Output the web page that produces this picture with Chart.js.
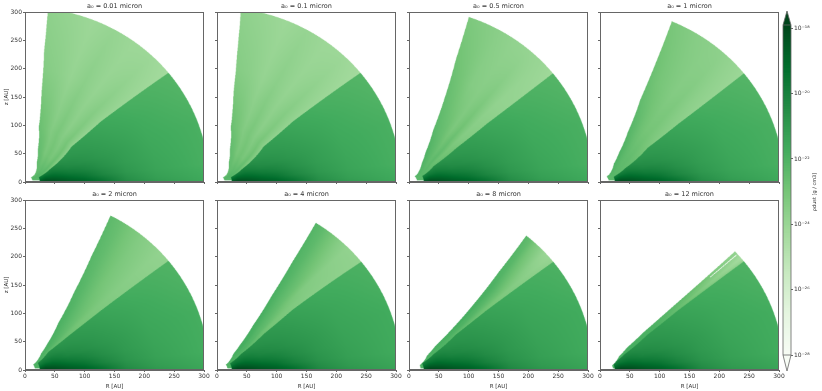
<!DOCTYPE html>
<html>
<head>
<meta charset="utf-8">
<script src="https://cdn.jsdelivr.net/npm/chart.js@4"></script>
<style>
  html, body { margin:0; padding:0; background:#fff; width:822px; height:391px; overflow:hidden; }
  canvas { position:absolute; filter:blur(0.3px); }
</style>
</head>
<body>
<script>
// panel titles
var titles = ['a₀ = 0.01 micron','a₀ = 0.1 micron','a₀ = 0.5 micron','a₀ = 1 micron',
              'a₀ = 2 micron','a₀ = 4 micron','a₀ = 8 micron','a₀ = 12 micron'];
var axisTicks = [0,50,100,150,200,250,300];

// colorbar
var greens = ['#f7fcf5','#e5f5e0','#c7e9c0','#a1d99b','#74c476','#41ab5d','#238b45','#006d2c','#00441b'];
var logMin = -28, logMax = -17.9;
var cbarTicks = [-28,-26,-24,-22,-20,-18];
var cbarLabels = ['10⁻²⁸','10⁻²⁶','10⁻²⁴','10⁻²²','10⁻²⁰','10⁻¹⁸'];
var cbarTitle = 'ρdust [g / cm3]';

// outer radius of the model and inner radius of the disk, AU
var outerRadius = 308, diskInner = 25;

// disk region: log10 rho, rows = diskAngles, columns = diskRadii
var diskRadii  = [25,35,50,75,100,130,170,220,308];
var diskAngles = [0,2,6,12,20,30,40];
var diskLog = [
  [-18.2,-18.0,-18.2,-18.6,-19.0,-19.4,-20.4,-21.0,-21.6],
  [-18.4,-18.1,-18.3,-18.7,-19.0,-19.6,-20.6,-21.2,-21.7],
  [-18.8,-18.4,-18.6,-19.1,-19.5,-20.2,-20.9,-21.4,-21.9],
  [-19.2,-18.9,-19.1,-19.7,-20.1,-20.6,-21.1,-21.5,-21.9],
  [-19.8,-19.6,-19.7,-20.3,-20.6,-20.9,-21.2,-21.6,-21.9],
  [-20.4,-20.2,-20.3,-20.7,-20.9,-21.1,-21.4,-21.7,-22.1],
  [-20.8,-20.6,-20.7,-21.0,-21.1,-21.3,-21.6,-21.9,-22.2]
];
var diskShift = [0,0,0,0,0.1,0.2,0.2,0.15];

// upper edge of the wind wedge per panel, degrees
var edgeRadii = [20,40,60,100,160,230,310];
var edgeAngles = [
  [38,60,69,76.5,80,82,82.8],
  [38,60,69,76.5,80,81.5,82.5],
  [45,57,62,66,68,70,71],
  [40,54,58,62,65,66,67],
  [35,47,51,56,59,61,62.3],
  [33,46,49,52.5,55,56.5,57.5],
  [25,40,43.5,45,47,49,50.4],
  [20,37,41,42.3,42.5,42.6,42.8]
];
// disk / wind boundary per panel, degrees
var boundRadii = [25,50,100,165,310];
var boundAngles = [
  [20,29,38.6,40,38.7],
  [20,29,38.6,40,38.7],
  [25,34,37,38.2,38.5],
  [22,30,37,38,38.5],
  [30,39,39.5,39.5,38.7],
  [28,35,39,40,38.3],
  [28,34,38.5,39,38.3],
  [28,34,38,38.8,38.5]
];
// inner radius of the wind rim per panel
var windInner = [13,13,14,15,17,18,20,22];

// wind region: log10 rho, rows = windRadii, columns = windFractions (0 boundary, 1 upper edge)
var windRadii = [25,60,120,200,308];
var windFractions = [0,1/6,2/6,3/6,4/6,5/6,1];
var windLog = [
  [[-22.3,-22.2,-22.2,-22.3,-22.4,-22.5,-22.6],
   [-23.5,-22.7,-23.1,-22.9,-23.1,-22.7,-22.5],
   [-23.9,-23.2,-23.6,-23.2,-23.5,-23.1,-22.8],
   [-24.0,-23.6,-23.9,-23.6,-23.9,-23.6,-23.4],
   [-24.3,-24.1,-24.1,-23.9,-24.1,-23.9,-23.7]],
  [[-22.3,-22.2,-22.2,-22.3,-22.4,-22.5,-22.6],
   [-23.4,-22.7,-23.1,-22.9,-23.1,-22.7,-22.5],
   [-23.8,-23.2,-23.6,-23.2,-23.5,-23.1,-22.8],
   [-24.0,-23.6,-23.9,-23.6,-23.9,-23.6,-23.4],
   [-24.3,-24.1,-24.1,-23.9,-24.1,-23.9,-23.7]],
  [[-22.3,-22.3,-22.3,-22.3,-22.2,-22.2,-22.0],
   [-22.6,-22.8,-22.4,-22.6,-22.4,-22.2,-22.0],
   [-23.3,-23.4,-22.8,-23.2,-22.8,-22.6,-22.4],
   [-23.8,-23.8,-23.3,-23.5,-23.4,-23.0,-22.7],
   [-24.2,-24.0,-23.9,-23.8,-23.6,-23.4,-23.2]],
  [[-22.3,-22.3,-22.3,-22.3,-22.2,-22.2,-22.0],
   [-22.6,-22.6,-22.5,-22.5,-22.4,-22.2,-22.0],
   [-23.4,-23.2,-23.0,-23.0,-22.8,-22.5,-22.3],
   [-23.8,-23.6,-23.3,-23.4,-23.2,-23.0,-22.7],
   [-24.1,-23.9,-23.7,-23.6,-23.5,-23.3,-23.1]],
  [[-22.0,-22.0,-22.0,-22.0,-22.0,-22.0,-21.9],
   [-22.5,-22.4,-22.2,-22.1,-22.0,-22.0,-21.8],
   [-23.0,-23.0,-22.7,-22.5,-22.3,-22.1,-22.0],
   [-23.4,-23.4,-23.2,-23.0,-22.7,-22.4,-22.2],
   [-23.8,-23.8,-23.6,-23.4,-23.1,-22.7,-22.4]],
  [[-22.0,-22.0,-22.0,-22.0,-22.0,-21.9,-21.8],
   [-22.4,-22.2,-22.0,-22.0,-21.8,-21.8,-21.8],
   [-23.0,-23.0,-22.6,-22.4,-22.2,-22.0,-21.8],
   [-23.5,-23.4,-23.3,-22.8,-22.5,-22.2,-22.0],
   [-23.8,-23.8,-23.8,-23.5,-23.0,-22.5,-22.2]],
  [[-22.0,-22.0,-22.0,-22.0,-21.9,-21.9,-21.8],
   [-22.0,-22.0,-22.0,-22.0,-21.9,-21.9,-21.8],
   [-22.6,-22.4,-22.2,-22.0,-22.0,-21.8,-21.8],
   [-23.2,-23.2,-22.8,-22.5,-22.2,-22.0,-22.0],
   [-23.8,-24.0,-24.0,-23.6,-23.2,-22.6,-22.3]],
  [[-21.9,-21.9,-21.9,-21.9,-21.9,-21.9,-21.9],
   [-21.8,-21.8,-21.8,-21.8,-21.8,-21.8,-21.8],
   [-22.0,-22.0,-22.0,-22.0,-22.0,-22.0,-22.0],
   [-22.8,-23.0,-23.0,-22.8,-22.8,-22.6,-22.6],
   [-23.8,-24.2,-24.4,-24.2,-24.0,-23.8,-23.8]]
];
// thin empty sliver in the last panel
var gapPanel = 7, gapAngle = 41.6, gapWidth = 0.12, gapRadii = [247,306];

// layout, in window pixels
var colLefts = [25,217,409,600];
var rowTops = [12,200];
var plotW = 179, plotH = 170;
var marginL = 25, marginR = 7, marginT = 12, marginB = 20;
var lineColor = '#666', textColor = '#333';
var ss = 3;

function interp(xs, ys, x){
  if(x <= xs[0]) return ys[0];
  for(var i = 1; i < xs.length; i++){
    if(x <= xs[i]){
      var f = (x - xs[i-1]) / (xs[i] - xs[i-1]);
      return ys[i-1] + f * (ys[i] - ys[i-1]);
    }
  }
  return ys[ys.length-1];
}

function gridValue(rowKeys, colKeys, table, a, b){
  var col = [];
  for(var i = 0; i < rowKeys.length; i++) col.push(interp(colKeys, table[i], b));
  return interp(rowKeys, col, a);
}

var stops = greens.map(function(c){
  return [parseInt(c.substr(1,2),16), parseInt(c.substr(3,2),16), parseInt(c.substr(5,2),16)];
});
function cmap(logRho){
  var t = Math.max(0, Math.min(1, (logRho - logMin) / (logMax - logMin))) * (stops.length - 1);
  var i = Math.min(Math.floor(t), stops.length - 2), f = t - i;
  return [0,1,2].map(function(k){ return Math.round(stops[i][k] + f * (stops[i+1][k] - stops[i][k])); });
}

function densityAt(p, R, z){
  var r = Math.sqrt(R*R + z*z);
  if(r > outerRadius || r < windInner[p] || z < 0) return null;
  var th = Math.atan2(z, R) * 180 / Math.PI;
  var edge = interp(edgeRadii, edgeAngles[p], r);
  var bound = interp(boundRadii, boundAngles[p], r);
  if(th > edge) return null;
  if(th <= bound && r >= diskInner){
    return gridValue(diskAngles, diskRadii, diskLog, th, r) + diskShift[p];
  }
  if(z < 3) return null;
  if(p == gapPanel && r > gapRadii[0] && r < gapRadii[1] && Math.abs(th - gapAngle) < gapWidth) return null;
  var frac = Math.max(0, (th - bound) / Math.max(edge - bound, 0.01));
  return gridValue(windRadii, windFractions, windLog[p], r, frac);
}

var polarImage = {
  id:'polarImage',
  beforeDatasetsDraw:function(chart){
    var p = chart.options.plugins.polarImage.panel;
    var a = chart.chartArea, xs = chart.scales.x, ys = chart.scales.y;
    var w = Math.round(a.right - a.left) * ss, h = Math.round(a.bottom - a.top) * ss;
    var off = document.createElement('canvas');
    off.width = w; off.height = h;
    var octx = off.getContext('2d');
    var img = octx.createImageData(w, h);
    for(var j = 0; j < h; j++){
      var z = ys.getValueForPixel(a.top + (j + 0.5) / ss);
      for(var i = 0; i < w; i++){
        var R = xs.getValueForPixel(a.left + (i + 0.5) / ss);
        var v = densityAt(p, R, z);
        if(v === null) continue;
        var c = cmap(v), n = (j * w + i) * 4;
        img.data[n] = c[0]; img.data[n+1] = c[1]; img.data[n+2] = c[2]; img.data[n+3] = 255;
      }
    }
    octx.putImageData(img, 0, 0);
    var ctx = chart.ctx;
    ctx.save();
    ctx.imageSmoothingEnabled = true;
    ctx.imageSmoothingQuality = 'high';
    ctx.drawImage(off, a.left, a.top, a.right - a.left, a.bottom - a.top);
    ctx.restore();
  },
  afterDraw:function(chart){
    var a = chart.chartArea, ctx = chart.ctx;
    ctx.save();
    ctx.strokeStyle = lineColor;
    ctx.lineWidth = 1;
    ctx.strokeRect(a.left + 0.5, a.top + 0.5, a.right - a.left - 1, a.bottom - a.top - 1);
    ctx.restore();
  }
};

// wedge nodes, handed to the library as the chart's data
function panelNodes(p){
  var nodes = [];
  diskAngles.forEach(function(th, i){
    diskRadii.forEach(function(r, k){
      nodes.push({x:r*Math.cos(th*Math.PI/180), y:r*Math.sin(th*Math.PI/180), v:diskLog[i][k]});
    });
  });
  windRadii.forEach(function(r, i){
    var b = interp(boundRadii, boundAngles[p], r), e = interp(edgeRadii, edgeAngles[p], r);
    windFractions.forEach(function(f, k){
      var th = (b + f * (e - b)) * Math.PI / 180;
      nodes.push({x:r*Math.cos(th), y:r*Math.sin(th), v:windLog[p][i][k]});
    });
  });
  return nodes;
}

function fixedTicks(scale){
  scale.ticks = axisTicks.map(function(v){ return {value:v}; });
}

function makePanel(p){
  var col = p % 4, row = Math.floor(p / 4);
  var cv = document.createElement('canvas');
  cv.width = marginL + plotW + marginR;
  cv.height = marginT + plotH + marginB;
  cv.style.left = (colLefts[col] - marginL) + 'px';
  cv.style.top = (rowTops[row] - marginT) + 'px';
  document.body.appendChild(cv);

  var showX = row == 1, showY = col == 0;
  new Chart(cv.getContext('2d'), {
    type:'scatter',
    data:{datasets:[{label:titles[p], data:panelNodes(p), pointRadius:0}]},
    plugins:[polarImage],
    options:{
      responsive:false, animation:false, events:[],
      layout:{padding:{right:marginR, left:0, top:0, bottom:0}},
      plugins:{
        polarImage:{panel:p},
        legend:{display:false}, tooltip:{enabled:false},
        title:{display:true, text:titles[p], color:textColor, fullSize:false,
               font:{family:'DejaVu Sans', size:6.5, weight:'normal', lineHeight:1},
               padding:{top:3, bottom:2.5}}
      },
      scales:{
        x:{type:'linear', min:0, max:300,
           afterBuildTicks:fixedTicks,
           afterFit:function(s){ s.height = marginB; },
           border:{color:lineColor},
           grid:{drawOnChartArea:false, tickLength:2, color:lineColor},
           ticks:{color:textColor, padding:1, maxRotation:0, autoSkip:false,
                  font:{family:'DejaVu Sans', size:6},
                  callback:function(v){ return showX ? v : ''; }},
           title:{display:showX, text:'R [AU]', color:textColor, padding:{top:1,bottom:0},
                  font:{family:'DejaVu Sans', size:5.5}}},
        y:{type:'linear', min:0, max:300,
           afterBuildTicks:fixedTicks,
           afterFit:function(s){ s.width = marginL; },
           border:{color:lineColor},
           grid:{drawOnChartArea:false, tickLength:2, color:lineColor},
           ticks:{color:textColor, padding:1, autoSkip:false,
                  font:{family:'DejaVu Sans', size:6},
                  callback:function(v){ return showY ? v : ''; }},
           title:{display:showY, text:'z [AU]', color:textColor, padding:{top:3,bottom:0},
                  font:{family:'DejaVu Sans', size:5.5}}}
      }
    }
  });
}

var colorbarFill = {
  id:'colorbarFill',
  beforeDatasetsDraw:function(chart){
    var a = chart.chartArea, ys = chart.scales.y, ctx = chart.ctx;
    var pts = chart.data.datasets[0].data;
    ctx.save();
    for(var i = 0; i < pts.length - 1; i++){
      var c = cmap(Math.log10(pts[i].y));
      var y0 = ys.getPixelForValue(pts[i].y), y1 = ys.getPixelForValue(pts[i+1].y);
      ctx.fillStyle = 'rgb(' + c.join(',') + ')';
      ctx.fillRect(a.left, y1 - 0.5, a.right - a.left, y0 - y1 + 1);
    }
    var mid = (a.left + a.right) / 2;
    ctx.strokeStyle = lineColor;
    ctx.lineWidth = 0.8;
    // over and under extensions
    ctx.beginPath();
    ctx.moveTo(a.left, a.top); ctx.lineTo(mid, a.top - 14); ctx.lineTo(a.right, a.top); ctx.closePath();
    var top = cmap(logMax);
    ctx.fillStyle = 'rgb(' + top.join(',') + ')';
    ctx.fill(); ctx.stroke();
    ctx.beginPath();
    ctx.moveTo(a.left, a.bottom); ctx.lineTo(mid, a.bottom + 16); ctx.lineTo(a.right, a.bottom); ctx.closePath();
    var low = cmap(logMin);
    ctx.fillStyle = 'rgb(' + low.join(',') + ')';
    ctx.fill(); ctx.stroke();
    ctx.beginPath();
    ctx.moveTo(a.left, a.top); ctx.lineTo(a.left, a.bottom);
    ctx.moveTo(a.right, a.top); ctx.lineTo(a.right, a.bottom);
    ctx.stroke();
    ctx.restore();
  },
  afterDraw:function(chart){
    // right axis titles in Chart.js turn the other way, so this one is placed by hand
    var ctx = chart.ctx;
    ctx.save();
    ctx.translate(45, 192);
    ctx.rotate(-Math.PI / 2);
    ctx.fillStyle = textColor;
    ctx.font = '5px "DejaVu Sans"';
    ctx.textAlign = 'center';
    ctx.textBaseline = 'middle';
    ctx.fillText(cbarTitle, 0, 0);
    ctx.restore();
  }
};

function makeColorbar(){
  var cv = document.createElement('canvas');
  cv.width = 52; cv.height = 391;
  cv.style.left = '770px'; cv.style.top = '0px';
  document.body.appendChild(cv);
  var levels = [];
  for(var v = logMin; v <= logMax + 0.001; v += 0.05) levels.push({x:0, y:Math.pow(10, v)});
  new Chart(cv.getContext('2d'), {
    type:'scatter',
    data:{datasets:[{label:'colorbar', data:levels, pointRadius:0}]},
    plugins:[colorbarFill],
    options:{
      responsive:false, animation:false, events:[],
      layout:{padding:{left:13, top:25, bottom:36, right:0}},
      plugins:{legend:{display:false}, tooltip:{enabled:false}},
      scales:{
        x:{type:'linear', display:false, min:0, max:1},
        y:{type:'logarithmic', position:'right',
           min:Math.pow(10, logMin), max:Math.pow(10, logMax),
           afterBuildTicks:function(s){
             s.ticks = cbarTicks.map(function(v){ return {value:Math.pow(10, v)}; });
           },
           afterFit:function(s){ s.width = 31; },
           border:{display:false},
           grid:{drawOnChartArea:false, tickLength:2, color:lineColor},
           ticks:{color:textColor, padding:1, autoSkip:false,
                  font:{family:'DejaVu Sans', size:6},
                  callback:function(v, i){ return cbarLabels[i]; }}}
      }
    }
  });
}

for(var p = 0; p < titles.length; p++) makePanel(p);
makeColorbar();
</script>
</body>
</html>
